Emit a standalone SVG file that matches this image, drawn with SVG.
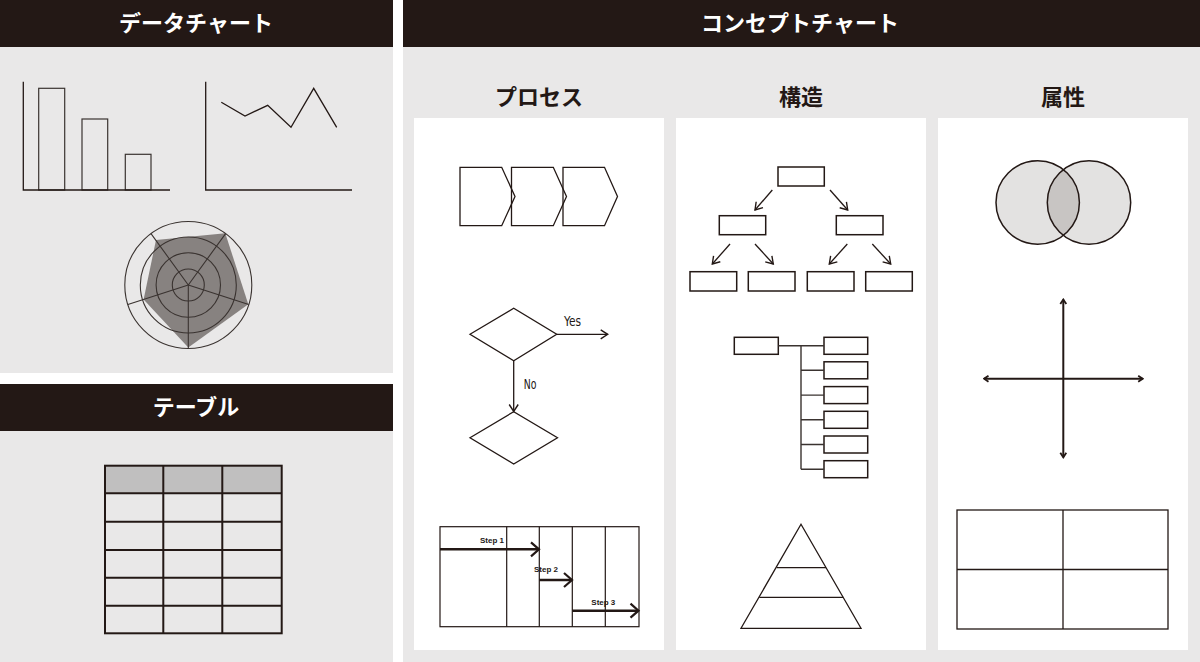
<svg xmlns="http://www.w3.org/2000/svg" width="1200" height="662" viewBox="0 0 1200 662">
<defs>
<style>
.bg{fill:#e9e8e8}
.hd{fill:#231815}
.card{fill:#ffffff}
.ht{font-family:"Noto Sans CJK JP","Noto Sans",sans-serif;font-weight:700;font-size:22px;fill:#ffffff;text-anchor:middle}
.st{font-family:"Noto Sans CJK JP","Noto Sans",sans-serif;font-weight:700;font-size:22px;fill:#231815;text-anchor:middle}
.ln{fill:none;stroke:#231815;stroke-width:1.3}
.lnt{fill:none;stroke:#3a3330;stroke-width:1.1}
.box{fill:#ffffff;stroke:#231815;stroke-width:1.5}
.thk{fill:none;stroke:#231815;stroke-width:2}
.yn{font-family:"Liberation Sans Narrow","DejaVu Sans Condensed","Liberation Sans",sans-serif;font-size:14px;fill:#231815}
.stp{font-family:"Liberation Sans","DejaVu Sans",sans-serif;font-weight:700;font-size:8px;fill:#231815}
</style>
<marker id="arr" viewBox="-1 -6 10 12" refX="7" refY="0" markerWidth="10" markerHeight="12" markerUnits="userSpaceOnUse" orient="auto">
<path d="M0,-4.5 L7,0 L0,4.5" fill="none" stroke="#231815" stroke-width="1.4"/>
</marker>
<marker id="arrBig" viewBox="-2 -9 12 18" refX="8" refY="0" markerWidth="12" markerHeight="18" markerUnits="userSpaceOnUse" orient="auto">
<path d="M0,-7 L8,0 L0,7" fill="none" stroke="#231815" stroke-width="2.2"/>
</marker>
<marker id="arrSm" viewBox="-2 -5 8 10" refX="4.5" refY="0" markerWidth="8" markerHeight="10" markerUnits="userSpaceOnUse" orient="auto-start-reverse">
<path d="M0,-3 L4.5,0 L0,3" fill="none" stroke="#231815" stroke-width="1.8"/>
</marker>
</defs>

<rect x="0" y="0" width="1200" height="662" fill="#ffffff"/>

<g id="panel-data">
<rect class="bg" x="0" y="0" width="393" height="373"/>
<rect class="hd" x="0" y="0" width="393" height="47"/>
<text class="ht" x="196" y="31">データチャート</text>
</g>
<g id="panel-table">
<rect class="bg" x="0" y="384" width="393" height="278"/>
<rect class="hd" x="0" y="384" width="393" height="47"/>
<text class="ht" x="196" y="415">テーブル</text>
</g>
<g id="panel-concept">
<rect class="bg" x="403" y="0" width="797" height="662"/>
<rect class="hd" x="403" y="0" width="797" height="47"/>
<text class="ht" x="800" y="31">コンセプトチャート</text>
<text class="st" x="539" y="105">プロセス</text>
<text class="st" x="801" y="105">構造</text>
<text class="st" x="1063" y="105">属性</text>
<rect class="card" x="414" y="118" width="250" height="532"/>
<rect class="card" x="676" y="118" width="250" height="532"/>
<rect class="card" x="938" y="118" width="250" height="532"/>
</g>

<g id="bar-chart">
<rect x="38.7" y="88.3" width="26" height="101.7" fill="none" stroke="#3a3330" stroke-width="1.2"/>
<rect x="82" y="119" width="25.7" height="71" fill="none" stroke="#3a3330" stroke-width="1.2"/>
<rect x="125.3" y="154.3" width="25.7" height="35.7" fill="none" stroke="#3a3330" stroke-width="1.2"/>
<path class="ln" d="M23.3,81.7 V190 H170" stroke-width="1.6"/>
</g>

<g id="line-chart">
<path class="ln" d="M205.7,81.7 V190 H352" stroke-width="1.6"/>
<polyline class="ln" points="221.3,102.3 245,116 267.7,105.3 291,127.3 313.7,88.3 336.7,127.3" stroke-width="1.5"/>
</g>

<g id="radar-chart">
<polygon points="156,240 225.3,233.3 248.3,304.3 188.3,347.5 143.6,299.5" fill="#878280"/>
<circle class="lnt" cx="188.3" cy="285" r="63.5"/>
<circle class="lnt" cx="188.3" cy="285" r="48"/>
<circle class="lnt" cx="188.3" cy="285" r="32.2"/>
<circle class="lnt" cx="188.3" cy="285" r="16"/>
<path class="lnt" d="M188.3,285 L151,233.6 M188.3,285 L225.6,233.6 M188.3,285 L127.9,304.6 M188.3,285 L248.7,304.6 M188.3,285 L188.3,348.5"/>
</g>

<g id="table">
<rect x="105" y="465.7" width="176.7" height="27.6" fill="#c0bfbf"/>
<rect class="thk" x="105" y="465.7" width="176.7" height="167.6"/>
<path class="thk" d="M163.3,465.7 V633.3 M222.3,465.7 V633.3 M105,493.3 H281.7 M105,521.7 H281.7 M105,550 H281.7 M105,577.7 H281.7 M105,605.7 H281.7"/>
</g>

<g id="process-chevrons">
<polygon class="ln" points="460,167.3 501.7,167.3 515,196.5 501.7,225.7 460,225.7" stroke-width="1.5"/>
<polygon class="ln" points="511.5,167.3 553.3,167.3 566.5,196.5 553.3,225.7 511.5,225.7" stroke-width="1.5"/>
<polygon class="ln" points="563,167.3 604.5,167.3 617.5,196.5 604.5,225.7 563,225.7" stroke-width="1.5"/>
</g>

<g id="decision-1">
<polygon class="ln" points="470,334.3 513.7,308.3 556.7,334.3 513.7,360.7" stroke-width="1.5"/>
</g>
<g id="decision-2">
<polygon class="ln" points="470,437.7 513.7,411.7 557.5,437.7 513.7,464" stroke-width="1.5"/>
</g>

<g id="gantt">
<rect x="440" y="526.7" width="199" height="100" fill="none" stroke="#231815" stroke-width="1.2"/>
<path d="M506.7,526.7 V626.7 M539.3,526.7 V626.7 M572.3,526.7 V626.7 M605.3,526.7 V626.7" fill="none" stroke="#231815" stroke-width="1.2"/>
<text class="stp" x="480" y="543.3">Step 1</text>
<text class="stp" x="534" y="572.3">Step 2</text>
<text class="stp" x="591.3" y="605">Step 3</text>
</g>

<g id="tree">
<rect class="box" x="778" y="167" width="46.3" height="19"/>
<rect class="box" x="719.3" y="215.7" width="46.4" height="19"/>
<rect class="box" x="836.3" y="215.7" width="46.7" height="19"/>
<rect class="box" x="690" y="271.7" width="46.7" height="19.3"/>
<rect class="box" x="748.3" y="271.7" width="46.7" height="19.3"/>
<rect class="box" x="807.3" y="271.7" width="46.7" height="19.3"/>
<rect class="box" x="865.7" y="271.7" width="46.6" height="19.3"/>
</g>

<g id="list">
<rect class="box" x="734.3" y="337.3" width="44" height="17"/>
<rect class="box" x="824" y="337.3" width="43.7" height="17"/>
<rect class="box" x="824" y="361.8" width="43.7" height="17"/>
<rect class="box" x="824" y="386.6" width="43.7" height="17"/>
<rect class="box" x="824" y="411.3" width="43.7" height="17"/>
<rect class="box" x="824" y="436" width="43.7" height="17"/>
<rect class="box" x="824" y="460.7" width="43.7" height="17"/>
</g>

<g id="pyramid">
<polygon class="ln" points="801,524.3 861,628.3 741,628.3" stroke-width="1.5"/>
<path class="ln" d="M776.7,567.7 H826 M759.3,597.3 H843.3" stroke-width="1.5"/>
</g>

<g id="venn">
<circle cx="1037.7" cy="202.5" r="41.7" fill="#e3e2e1"/>
<circle cx="1089" cy="202.5" r="41.7" fill="#e3e2e1"/>
<path d="M1063.35,169.6 A41.7,41.7 0 0 1 1063.35,235.4 A41.7,41.7 0 0 1 1063.35,169.6 Z" fill="#c8c5c3"/>
<circle cx="1037.7" cy="202.5" r="41.7" fill="none" stroke="#231815" stroke-width="1.5"/>
<circle cx="1089" cy="202.5" r="41.7" fill="none" stroke="#231815" stroke-width="1.5"/>
</g>

<g id="quadrant">
<rect x="957" y="510" width="211" height="119" fill="none" stroke="#231815" stroke-width="1.3"/>
<path d="M1063,510 V629 M957,569.5 H1168" fill="none" stroke="#231815" stroke-width="1.3"/>
</g>

<g id="connectors">
<line class="ln" x1="556.7" y1="334.3" x2="607.7" y2="334.3" marker-end="url(#arr)"/>
<text class="yn" x="564" y="326" textLength="17" lengthAdjust="spacingAndGlyphs">Yes</text>
<line class="ln" x1="513.7" y1="360.7" x2="513.7" y2="411.5" marker-end="url(#arr)"/>
<text class="yn" x="523.7" y="389" textLength="12.7" lengthAdjust="spacingAndGlyphs">No</text>

<line x1="440" y1="549.3" x2="539" y2="549.3" stroke="#231815" stroke-width="2.4" marker-end="url(#arrBig)"/>
<line x1="539.3" y1="580" x2="572" y2="580" stroke="#231815" stroke-width="2.4" marker-end="url(#arrBig)"/>
<line x1="572.3" y1="610.7" x2="638.5" y2="610.7" stroke="#231815" stroke-width="2.4" marker-end="url(#arrBig)"/>

<line class="ln" x1="772.3" y1="190" x2="755" y2="210" marker-end="url(#arr)"/>
<line class="ln" x1="830" y1="190" x2="847.7" y2="210" marker-end="url(#arr)"/>
<line class="ln" x1="730" y1="244" x2="712.3" y2="264" marker-end="url(#arr)"/>
<line class="ln" x1="755" y1="244" x2="773.3" y2="264" marker-end="url(#arr)"/>
<line class="ln" x1="847.3" y1="244" x2="829.3" y2="264" marker-end="url(#arr)"/>
<line class="ln" x1="872.3" y1="244" x2="890.7" y2="264" marker-end="url(#arr)"/>

<path d="M778.3,345.8 H824 M801,345.8 V469.2 M801,370.3 H824 M801,395.1 H824 M801,419.8 H824 M801,444.5 H824 M801,469.2 H824" fill="none" stroke="#3a3330" stroke-width="1.4"/>

<line x1="1063.3" y1="299.5" x2="1063.3" y2="457.3" stroke="#231815" stroke-width="2" marker-start="url(#arrSm)" marker-end="url(#arrSm)"/>
<line x1="984" y1="378.7" x2="1142.7" y2="378.7" stroke="#231815" stroke-width="2" marker-start="url(#arrSm)" marker-end="url(#arrSm)"/>
</g>
</svg>
